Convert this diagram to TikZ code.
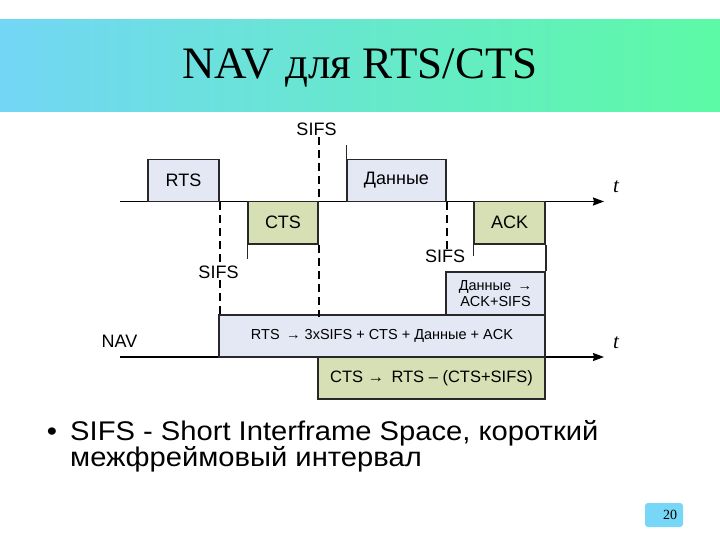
\documentclass[tikz,border=0pt]{standalone}
\usepackage{fontspec}
\setmainfont{Liberation Sans}
\newfontfamily\serifx{Liberation Serif}
\newfontfamily\bodyx[FakeStretch=1.08]{Liberation Sans}
\usetikzlibrary{arrows.meta}
\definecolor{bandL}{RGB}{114,214,245}
\definecolor{bandR}{RGB}{92,250,165}
\definecolor{lav}{RGB}{228,232,245}
\definecolor{oli}{RGB}{215,223,180}
\definecolor{edge}{RGB}{40,40,40}
\definecolor{pg}{RGB}{120,214,247}
\begin{document}
\begin{tikzpicture}[x=1pt,y=-1pt,
  lavbox/.style={draw=edge,line width=1.6pt,fill=lav,inner sep=0pt,font=\fontsize{18}{21}\selectfont},
  olibox/.style={draw=edge,line width=1.6pt,fill=oli,inner sep=0pt,font=\fontsize{18}{21}\selectfont},
  axisline/.style={line width=1.3pt,-{Stealth[length=11pt,width=8pt,inset=1pt]}},
  dashline/.style={line width=1.4pt,dash pattern=on 8pt off 5pt},
  tickline/.style={line width=1.4pt,draw=edge},
  lbl/.style={font=\fontsize{18}{21}\selectfont,inner sep=1pt},
  tlbl/.style={font=\serifx\itshape\fontsize{21}{24}\selectfont,inner sep=0pt}]
\useasboundingbox (0,0) rectangle (720,540);
\fill[white] (0,0) rectangle (720,540);
% title band
\shade[left color=bandL,right color=bandR] (0,20) rectangle (720,112);
\node[font=\serifx\fontsize{45}{50}\selectfont] (title) at (360,68) {NAV для RTS/CTS};
% axes
\coordinate (a1s) at (120,201.5);
\coordinate (a1e) at (604,201.5);
\coordinate (a2s) at (120,357);
\coordinate (a2e) at (604,357);
\draw[axisline] (a1s) -- (a1e);
\draw[axisline] (a2s) -- (a2e);
\node[tlbl] (t1) at (616,187) {t};
\node[tlbl] (t2) at (616,343) {t};
\node[lbl] (navl) at (119.5,341.5) {NAV};
% boxes
\node[lavbox,minimum width=71,minimum height=42] (rts) at (183.5,180.5) {RTS};
\node[olibox,minimum width=70,minimum height=42.5] (cts) at (283,222.75) {CTS};
\node[lavbox,minimum width=99,minimum height=42] (data) at (396.5,180.5) {Данные};
\node[olibox,minimum width=71,minimum height=42.5] (ack) at (509.5,222.75) {ACK};
\node[lavbox,minimum width=99,minimum height=43,align=center,font=\fontsize{14.5}{16.5}\selectfont] (dack) at (495.5,293.5) {Данные \,→\\ACK+SIFS};
\node[lavbox,minimum width=326,minimum height=42,font=\fontsize{14.5}{16.5}\selectfont] (nav) at (382,336) {RTS \,→ 3xSIFS + CTS + Данные + ACK};
\node[olibox,minimum width=227,minimum height=42,font=\fontsize{16.5}{19}\selectfont] (ctsn) at (431.5,378) {CTS → \,RTS – (CTS+SIFS)};
% solid ticks
\draw[tickline] (cts.south west) -- ++(0,14);
\draw[tickline] (ack.south west) -- ++(0,11);
\draw[tickline] (data.north west) -- ++(0,-14);
\draw[tickline] (ack.south east) -- (dack.north east);
% SIFS labels
\node[lbl] (sifsT) at (316.5,129) {SIFS};
\node[lbl,fill=white] (sifsL) at (218.5,272.5) {SIFS};
\node[lbl,fill=white] (sifsR) at (445,256.5) {SIFS};
% dashed lines
\draw[dashline] (rts.south east) -- (rts.south east |- nav.north);
\node[lbl,fill=white] at (sifsL) {SIFS};
\draw[dashline] (sifsT.south -| cts.east) -- (cts.north east);
\draw[dashline] (cts.south east) -- ([yshift=-3pt]cts.south east |- nav.north);
\draw[dashline] (data.south east) -- (sifsR.north -| data.east);
% bullet text
\node[font=\bodyx\fontsize{27}{30}\selectfont,anchor=base,inner sep=0pt] (bul) at (52,440) {•};
\node[font=\bodyx\fontsize{27}{30}\selectfont,anchor=base west,inner sep=0pt] (line1) at (70,440) {SIFS - Short Interframe Space, короткий};
\node[font=\bodyx\fontsize{27}{30}\selectfont,anchor=base west,inner sep=0pt] (line2) at (70,466) {межфреймовый интервал};
% page number
\node[fill=pg,rounded corners=3pt,minimum height=24,text width=26pt,align=right,inner xsep=6pt,inner ysep=0pt,font=\serifx\fontsize{14}{16}\selectfont] (pgn) at (664,515) {20};
\end{tikzpicture}
\end{document}
